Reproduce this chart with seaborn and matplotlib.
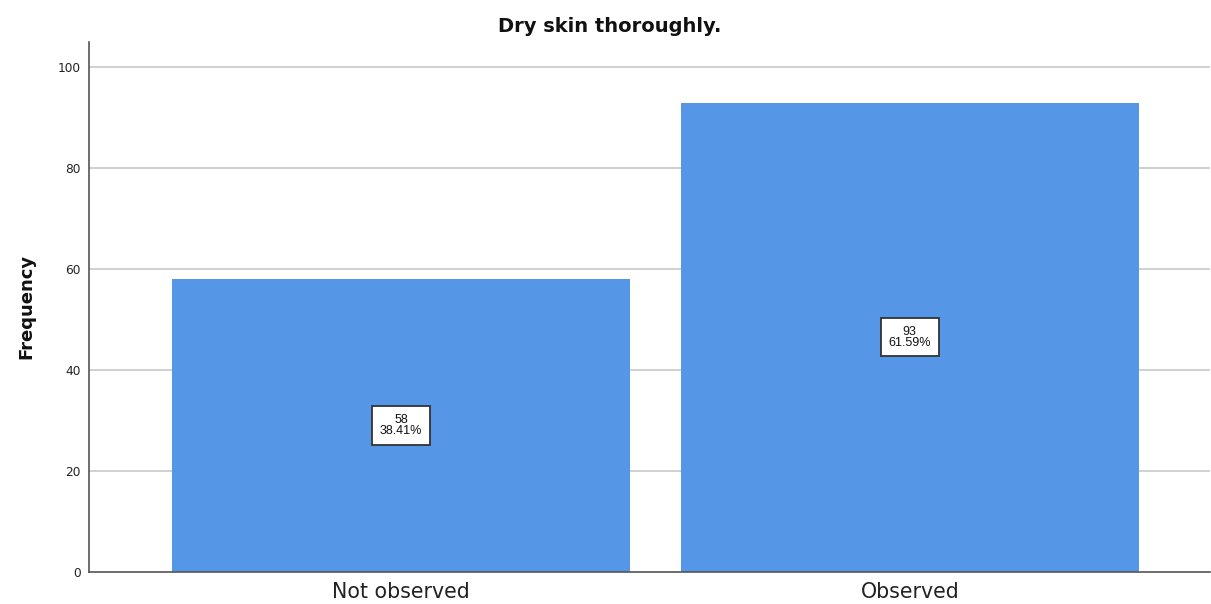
import matplotlib
matplotlib.use("Agg")
import matplotlib.pyplot as plt
import seaborn as sns
import pandas as pd

categories = ["Not observed", "Observed"]
counts = [58, 93]
percents = ["38.41%", "61.59%"]
yticks = [0, 20, 40, 60, 80, 100]

sns.set_theme(style="white")
plt.rcParams['font.family'] = ['DejaVu Sans']

df = pd.DataFrame({"category": categories, "count": counts})

fig = plt.figure(figsize=(12.11, 6.04), dpi=100)
ax = fig.add_axes([89/1211, 1 - 572/604, (1210-89)/1211, (572-42)/604])

ax.set_axisbelow(True)
for t in yticks[1:]:
    ax.axhline(t, color="#c8c8c8", lw=1.2, zorder=0)

sns.barplot(data=df, x="category", y="count", color="#5596E6", saturation=1,
            width=0.9, ax=ax, zorder=2)
for p in ax.patches:
    p.set_edgecolor("none")

for i, (c, pct) in enumerate(zip(counts, percents)):
    ax.text(i, c / 2, f"{c}\n{pct}", ha="center", va="center", fontsize=9,
            family=["Liberation Sans", "DejaVu Sans"],
            linespacing=0.92, color="#111111", zorder=5,
            bbox=dict(boxstyle="square,pad=0.6", fc="white", ec="#333333", lw=1.3))

ax.set_xlim(-0.613, 1.59)
ax.set_ylim(0, 105)
ax.set_yticks(yticks)
ax.set_yticklabels([str(t) for t in yticks], fontsize=8.7, color="#222222")
ax.tick_params(axis="y", length=0, pad=6)
ax.tick_params(axis="x", length=0, pad=7, labelsize=14.8, labelcolor="#222222")
ax.set_xlabel("")
ax.set_ylabel("Frequency", fontsize=13, fontweight="bold", color="#111111")
ax.yaxis.set_label_coords((35 - 89) / 1121, 0.502)

fig.text(610/1211, 1 - 31.5/604, "Dry skin thoroughly.", ha="center", va="baseline",
         fontsize=14, fontweight="bold", color="#111111")

for s in ["top", "right"]:
    ax.spines[s].set_visible(False)
for s in ["left", "bottom"]:
    ax.spines[s].set_color("#555555")
    ax.spines[s].set_linewidth(1.2)

fig.savefig("out.png", dpi=100)
